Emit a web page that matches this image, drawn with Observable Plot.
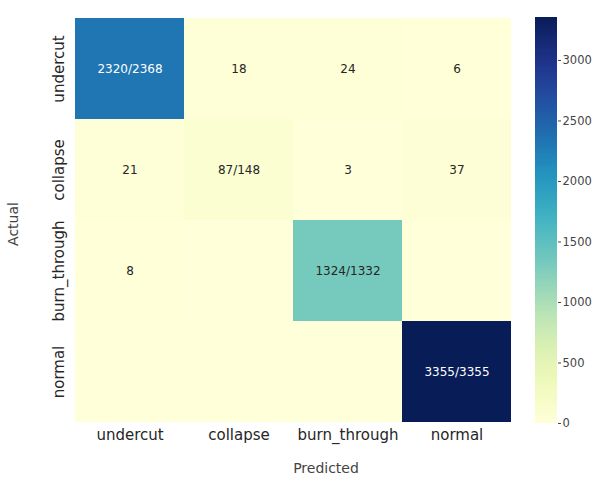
<!DOCTYPE html>
<html>
<head>
<meta charset="utf-8">
<script src="https://cdn.jsdelivr.net/npm/d3@7"></script>
<script src="https://cdn.jsdelivr.net/npm/@observablehq/plot@0.6"></script>
<style>
  html, body { margin: 0; padding: 0; background: #fff; }
  #wrap { position: relative; width: 595px; height: 477px; font-family: "DejaVu Sans", sans-serif; }
  #heat { position: absolute; left: 0; top: 0; }
  #cbar { position: absolute; left: 520px; top: 0; }
</style>
</head>
<body>
<div id="wrap"><div id="heat"></div><div id="cbar"></div></div>
<script>
// Data
const predicted = ["undercut", "collapse", "burn_through", "normal"];
const actual = ["undercut", "collapse", "burn_through", "normal"];
const counts = [
  [2320, 18, 24, 6],
  [21, 87, 3, 37],
  [8, 0, 1324, 0],
  [0, 0, 0, 3355]
];
const colorTicks = [0, 500, 1000, 1500, 2000, 2500, 3000];
const colorMax = 3355;

// Build cell table
const cells = [];
actual.forEach((a, i) => {
  const total = d3.sum(counts[i]);
  predicted.forEach((p, j) => {
    const v = counts[i][j];
    let label = "";
    if (v > 0) label = (i === j) ? `${v}/${total}` : `${v}`;
    cells.push({actual: a, predicted: p, value: v, label, dark: v / colorMax > 0.6});
  });
});

const heat = Plot.plot({
  width: 520,
  height: 477,
  marginLeft: 73,
  marginRight: 8,
  marginTop: 17,
  marginBottom: 55,
  style: {fontFamily: "DejaVu Sans, sans-serif", background: "transparent"},
  x: {domain: predicted, padding: 0, label: null},
  y: {domain: actual, padding: 0, label: null, axis: null},
  color: {type: "linear", scheme: "YlGnBu", domain: [0, colorMax]},
  marks: [
    Plot.cell(cells, {x: "predicted", y: "actual", fill: "value", inset: 0}),
    Plot.text(cells, {x: "predicted", y: "actual", text: "label", fontSize: 12,
      fill: d => d.dark ? "#ffffff" : "#262626"}),
    Plot.axisX({anchor: "bottom", tickSize: 0, tickPadding: 7, fontSize: 15, fill: "#262626", label: null}),
    Plot.text(actual, {y: d => d, text: d => d, frameAnchor: "left", dx: -14, rotate: -90,
      textAnchor: "middle", lineAnchor: "middle", fontSize: 15, fill: "#262626"}),
    Plot.text(["Predicted"], {frameAnchor: "bottom", dx: 33, dy: 50, fontSize: 14, fill: "#444"}),
    Plot.text(["Actual"], {frameAnchor: "left", dx: -60, dy: 4, rotate: -90, fontSize: 14, fill: "#444",
      textAnchor: "middle", lineAnchor: "middle"})
  ]
});
document.getElementById("heat").appendChild(heat);

// Colorbar
const steps = d3.range(0, colorMax, colorMax / 200);
const bands = steps.map(s => ({y1: s, y2: Math.min(s + colorMax / 200, colorMax), v: s + colorMax / 400}));
const cbar = Plot.plot({
  width: 75,
  height: 477,
  marginLeft: 15,
  marginRight: 38,
  marginTop: 17,
  marginBottom: 54,
  style: {fontFamily: "DejaVu Sans, sans-serif", background: "transparent"},
  x: {axis: null, domain: [0, 1]},
  y: {domain: [0, colorMax], axis: null},
  color: {type: "linear", scheme: "YlGnBu", domain: [0, colorMax]},
  marks: [
    Plot.rectY(bands, {x1: 0, x2: 1, y1: "y1", y2: "y2", fill: "v", shapeRendering: "crispEdges"}),
    Plot.axisY({anchor: "right", ticks: colorTicks, tickSize: 3, tickPadding: 2, fontSize: 11.5, fill: "#444", stroke: "#444", label: null, tickFormat: d => String(d)})
  ]
});
document.getElementById("cbar").appendChild(cbar);
</script>
</body>
</html>
